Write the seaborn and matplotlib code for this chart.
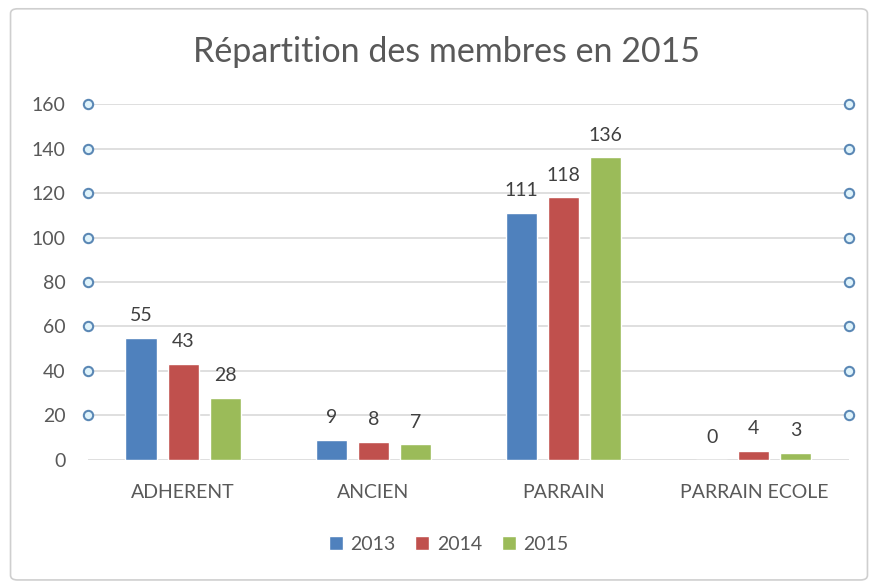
import matplotlib.pyplot as plt
import matplotlib.transforms as mtransforms
from matplotlib.patches import FancyBboxPatch
import seaborn as sns
import pandas as pd

# data
categories = ['ADHERENT', 'ANCIEN', 'PARRAIN', 'PARRAIN ECOLE']
years = ['2013', '2014', '2015']
v2013 = [55, 9, 111, 0]
v2014 = [43, 8, 118, 4]
v2015 = [28, 7, 136, 3]
yticks = [0, 20, 40, 60, 80, 100, 120, 140, 160]

colors = ['#4F81BD', '#C0504D', '#9BBB59']
grey = '#595959'

df = pd.DataFrame({
    'cat': categories * 3,
    'year': [y for y in years for _ in categories],
    'val': v2013 + v2014 + v2015,
})

sns.set_style('white')
plt.rcParams['font.family'] = ['Lato', 'DejaVu Sans']

fig = plt.figure(figsize=(8.78, 5.87), dpi=100)
ax = fig.add_axes([0.1002, 0.2164, 0.8667, 0.6064])

sns.barplot(data=df, x='cat', y='val', hue='year', palette=colors,
            width=0.663, gap=0.26, ax=ax, legend=True, saturation=1)

for c in ax.containers:
    ax.bar_label(c, labels=[f'{int(v)}' for v in c.datavalues],
                 padding=10, fontsize=14, color='#404040')

ax.set_ylim(0, 160)
ax.set_xlim(-0.5, 3.5)
ax.set_yticks(yticks)
ax.yaxis.grid(True, color='#d9d9d9', linewidth=1.2)
ax.set_axisbelow(True)
sns.despine(ax=ax, left=True, bottom=True)
ax.set_xlabel('')
ax.set_ylabel('')
ax.tick_params(axis='y', length=0, pad=16, labelsize=14, labelcolor=grey)
ax.tick_params(axis='x', length=0, pad=17, labelsize=14, labelcolor=grey)

# selection handles of the chart area
trans = mtransforms.blended_transform_factory(ax.transAxes, ax.transData)
for xh in (0, 1):
    ax.scatter([xh] * (len(yticks) - 1), yticks[1:], transform=trans,
               s=45, marker='o', facecolor='#dff3fb', edgecolor='#5b88b5',
               linewidth=1.5, clip_on=False, zorder=5)

fig.text(0.509, 0.912, 'Répartition des membres en 2015', ha='center',
         va='center', fontsize=24.5, color=grey)

handles, labels = ax.get_legend_handles_labels()
ax.legend(handles, labels, loc='center', bbox_to_anchor=(0.474, -0.237),
          ncol=3, frameon=False, fontsize=14, handlelength=0.72,
          handleheight=0.72, handletextpad=0.4, columnspacing=1.0,
          labelcolor=grey)

# outer chart border
fig.patches.append(FancyBboxPatch((0.012, 0.012), 0.976, 0.973,
                                  boxstyle='round,pad=0,rounding_size=0.008',
                                  transform=fig.transFigure, fill=False,
                                  edgecolor='#cfcfcf', linewidth=1.2))

fig.savefig('out.png', dpi=100)
